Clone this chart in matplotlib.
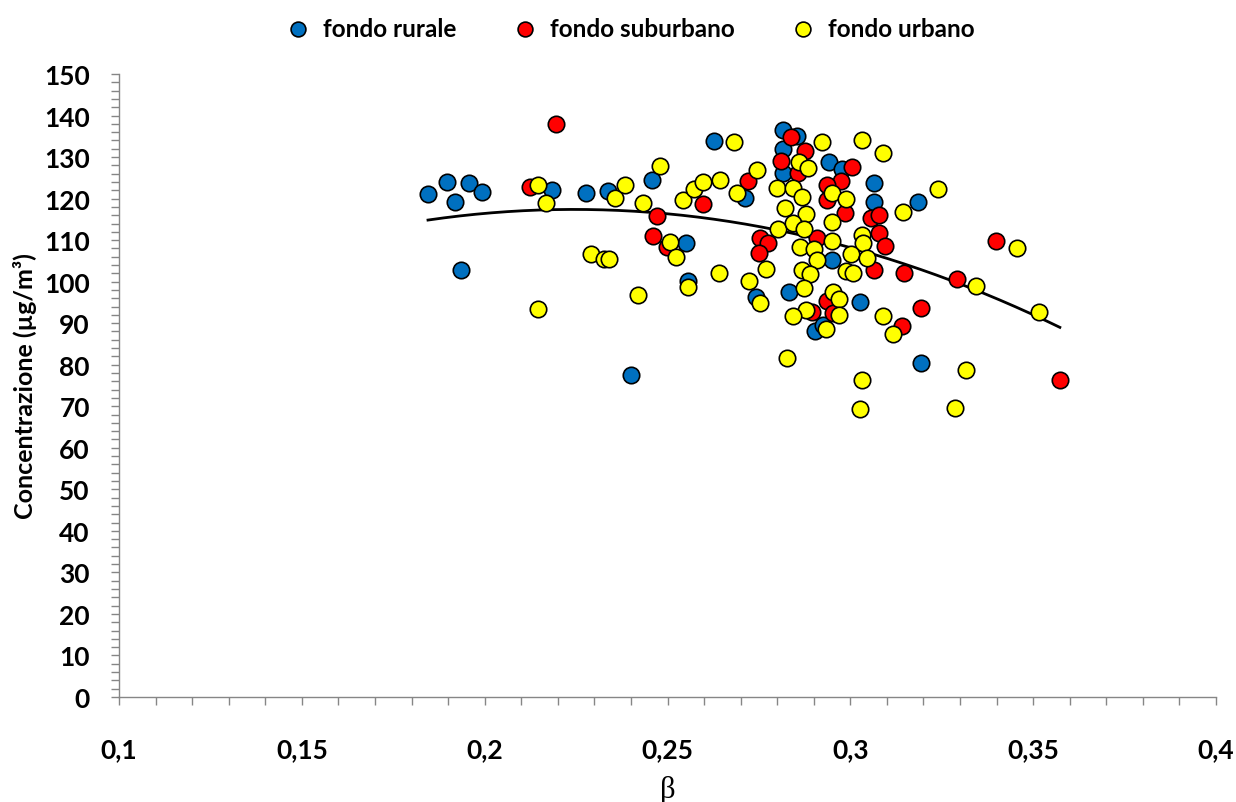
import matplotlib
matplotlib.use("Agg")
import matplotlib.pyplot as plt
import numpy as np
from matplotlib.ticker import MultipleLocator, FuncFormatter

plt.rcParams['font.family'] = ['Lato', 'DejaVu Sans']

# beta / concentration pairs for each station type
rurale_beta = [0.1845, 0.1897, 0.1919, 0.1957, 0.1993, 0.1935, 0.2184, 0.2277, 0.2337, 0.2457,
               0.2400, 0.2550, 0.2556, 0.2627, 0.2712, 0.2742, 0.2816, 0.2854, 0.2816, 0.2816,
               0.2832, 0.2941, 0.2977, 0.3065, 0.3065, 0.3185, 0.2950, 0.3026, 0.2903, 0.2925,
               0.3193]
rurale_conc = [121.2, 124.0, 119.2, 123.8, 121.6, 102.9, 122.1, 121.4, 121.9, 124.5,
               77.6, 109.4, 100.2, 133.9, 120.2, 96.4, 136.6, 135.1, 132.0, 126.2,
               97.6, 128.9, 127.2, 123.8, 119.2, 119.2, 105.3, 95.2, 88.2, 89.6,
               80.5]

suburbano_beta = [0.2195, 0.2124, 0.2471, 0.2460, 0.2498, 0.2597, 0.2720, 0.2753, 0.2775, 0.2750,
                  0.2838, 0.2876, 0.2810, 0.2857, 0.3004, 0.2974, 0.2936, 0.2936, 0.2985, 0.3056,
                  0.3078, 0.3078, 0.3095, 0.2909, 0.3065, 0.3147, 0.2936, 0.2895, 0.2952, 0.3141,
                  0.3193, 0.3291, 0.3398, 0.3573]
suburbano_conc = [138.0, 122.8, 115.9, 111.0, 108.4, 118.8, 124.3, 110.6, 109.4, 107.0,
                  134.9, 131.5, 129.1, 126.2, 127.7, 124.3, 123.3, 119.7, 116.6, 115.4,
                  116.1, 111.8, 108.6, 110.6, 102.9, 102.1, 95.4, 92.7, 92.5, 89.4,
                  93.7, 100.6, 109.8, 76.4]

urbano_beta = [0.2146, 0.2168, 0.2146, 0.2291, 0.2326, 0.2340, 0.2356, 0.2384, 0.2419, 0.2433,
               0.2479, 0.2507, 0.2523, 0.2542, 0.2556, 0.2572, 0.2597, 0.2643, 0.2641, 0.2682,
               0.2690, 0.2745, 0.2723, 0.2769, 0.2753, 0.2799, 0.2843, 0.2868, 0.2821, 0.2879,
               0.2802, 0.2843, 0.2873, 0.2859, 0.2884, 0.2922, 0.3032, 0.3089, 0.2950, 0.2988,
               0.2950, 0.3032, 0.3034, 0.2950, 0.2862, 0.2900, 0.2909, 0.3002, 0.3045, 0.2868,
               0.2890, 0.2988, 0.3007, 0.2873, 0.2952, 0.2969, 0.2879, 0.2843, 0.2969, 0.2933,
               0.3089, 0.3117, 0.2827, 0.3032, 0.3026, 0.3144, 0.3240, 0.3343, 0.3456, 0.3516,
               0.3316, 0.3286]
urbano_conc = [123.3, 119.0, 93.5, 106.7, 105.5, 105.5, 120.2, 123.3, 96.8, 119.0,
               127.9, 109.6, 106.0, 119.7, 98.8, 122.4, 124.0, 124.5, 102.1, 133.7,
               121.4, 126.9, 100.2, 103.1, 94.9, 122.6, 122.6, 120.4, 117.8, 116.3,
               112.7, 114.2, 112.7, 128.9, 127.4, 133.7, 134.2, 131.0, 121.4, 120.0,
               114.4, 111.3, 109.4, 109.8, 108.4, 107.9, 105.3, 106.7, 105.7, 102.9,
               101.9, 102.6, 102.1, 98.5, 97.6, 95.9, 93.2, 91.8, 92.0, 88.7,
               91.8, 87.4, 81.7, 76.4, 69.4, 116.8, 122.4, 99.0, 108.2, 92.7,
               78.8, 69.6]

series = [
    ("fondo rurale", rurale_beta, rurale_conc, "#0070C0"),
    ("fondo suburbano", suburbano_beta, suburbano_conc, "#FF0000"),
    ("fondo urbano", urbano_beta, urbano_conc, "#FFFF00"),
]

fig = plt.figure(figsize=(12.36, 8.03), dpi=100)
ax = fig.add_axes([0.0963, 0.1308, 0.8875, 0.7758])

for name, xs, ys, col in series:
    ax.scatter(xs, ys, s=140, c=col, edgecolors="black", linewidths=1.2,
               label=name, zorder=3)

# second order polynomial trend over all stations
all_x = np.array(rurale_beta + suburbano_beta + urbano_beta)
all_y = np.array(rurale_conc + suburbano_conc + urbano_conc)
coef = np.polyfit(all_x, all_y, 2)
xx = np.linspace(all_x.min(), all_x.max(), 200)
ax.plot(xx, np.polyval(coef, xx), color="black", lw=2, zorder=2)

ax.set_xlim(0.1, 0.4)
ax.set_ylim(0, 150)
ax.xaxis.set_major_locator(MultipleLocator(0.05))
ax.xaxis.set_minor_locator(MultipleLocator(0.01))
ax.yaxis.set_major_locator(MultipleLocator(10))
ax.yaxis.set_minor_locator(MultipleLocator(2))
ax.xaxis.set_major_formatter(FuncFormatter(lambda v, p: f"{v:g}".replace(".", ",")))
ax.yaxis.set_major_formatter(FuncFormatter(lambda v, p: f"{v:.0f}"))

for s in ["top", "right"]:
    ax.spines[s].set_visible(False)
for s in ["left", "bottom"]:
    ax.spines[s].set_color("#868686")
    ax.spines[s].set_linewidth(1)

ax.tick_params(which="both", direction="out", color="#868686", width=1, length=6)
ax.tick_params(axis="x", which="major", pad=23, labelsize=19)
ax.tick_params(axis="y", which="major", pad=15, labelsize=19)
for lab in ax.get_xticklabels() + ax.get_yticklabels():
    lab.set_fontweight("bold")

ax.set_xlabel("β", family="Liberation Serif", fontsize=22, labelpad=10)
ax.set_ylabel("Concentrazione (µg/m³)", fontsize=18, fontweight="bold", labelpad=5)

fig.legend(loc="upper center", bbox_to_anchor=(0.505, 1.005), ncol=3, frameon=False,
           prop={"size": 17.5, "weight": "bold"}, handletextpad=0.05, columnspacing=1.8,
           markerscale=0.9)

fig.savefig("out.png", dpi=100)
